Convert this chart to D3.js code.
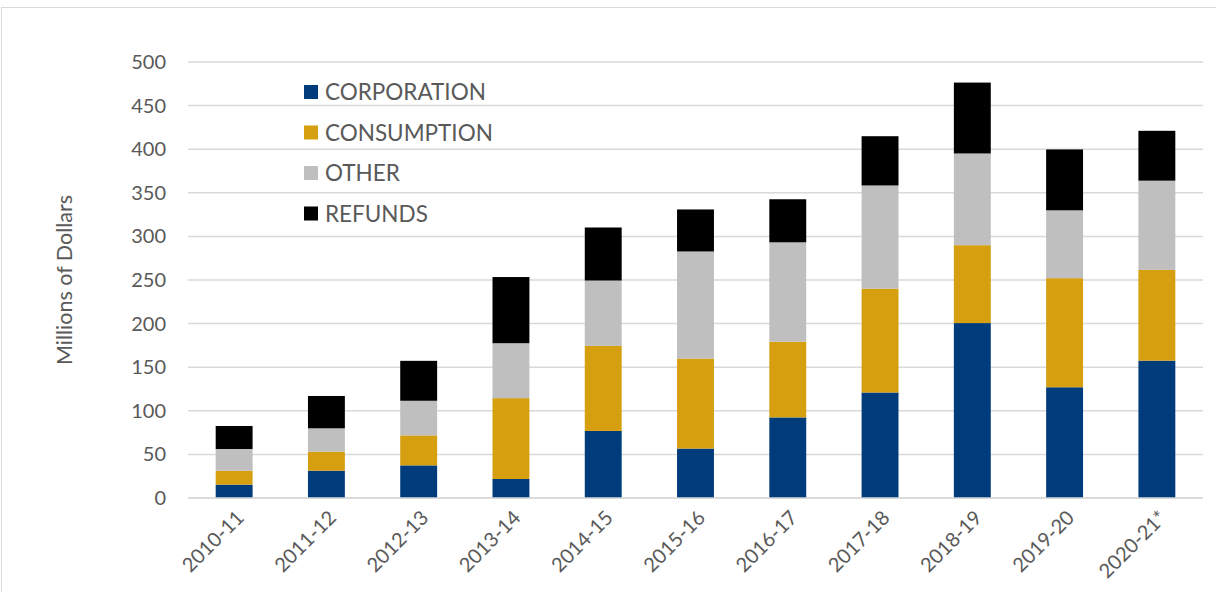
<!DOCTYPE html>
<html>
<head>
<meta charset="utf-8">
<script src="https://cdn.jsdelivr.net/npm/d3@7.9.0/dist/d3.min.js"></script>
<style>
  body { margin: 0; background: #fff; }
  svg text { font-family: Lato, "Open Sans", sans-serif; fill: #595959; }
</style>
</head>
<body>
<svg id="chart" width="1216" height="592"></svg>
<script>
// data (millions of dollars)
const years = ['2010-11', '2011-12', '2012-13', '2013-14', '2014-15', '2015-16',
               '2016-17', '2017-18', '2018-19', '2019-20', '2020-21*'];
const corporation = [15.3, 31.3, 37.4, 21.8, 76.9, 56.7, 92.4, 121, 200.6, 127, 157.5];
const consumption = [16, 21.8, 34.4, 92.7, 97.5, 103.2, 86.8, 119.1, 89.3, 125.1, 104.1];
const other = [24.9, 26.8, 39.7, 63, 75, 122.8, 114, 118.3, 105.2, 77.8, 102.3];
const refunds = [26.4, 37.1, 45.8, 75.9, 60.8, 48.2, 49.4, 56.5, 81.3, 69.8, 57.2];
const seriesNames = ['CORPORATION', 'CONSUMPTION', 'OTHER', 'REFUNDS'];
const seriesColors = ['#003c7b', '#d59f0f', '#bfbfbf', '#000000'];
const yTicks = [0, 50, 100, 150, 200, 250, 300, 350, 400, 450, 500];

const svg = d3.select('#chart');

// chart area border
svg.append('rect')
  .attr('x', 1.5).attr('y', 7.5)
  .attr('width', 1230).attr('height', 600)
  .attr('fill', 'none')
  .attr('stroke', '#d9d9d9');

const table = years.map((y, i) => ({
  year: y,
  CORPORATION: corporation[i],
  CONSUMPTION: consumption[i],
  OTHER: other[i],
  REFUNDS: refunds[i]
}));

const x = d3.scaleBand()
  .domain(years)
  .range([188, 1203])
  .paddingInner(0.6)
  .paddingOuter(0.3);

const y = d3.scaleLinear()
  .domain([0, 500])
  .range([498, 62]);

// gridlines
svg.append('g')
  .selectAll('line')
  .data(yTicks)
  .join('line')
  .attr('x1', 188).attr('x2', 1203)
  .attr('y1', d => y(d)).attr('y2', d => y(d))
  .attr('stroke', '#d9d9d9')
  .attr('stroke-width', 1.5);

// y axis labels
const yAxis = svg.append('g')
  .attr('transform', 'translate(178,0)')
  .call(d3.axisLeft(y).tickValues(yTicks).tickSize(0).tickPadding(12));
yAxis.select('.domain').remove();
yAxis.selectAll('text')
  .attr('font-size', 20)
  .style('font-family', 'Lato, "Open Sans", sans-serif')
  .attr('fill', '#595959');

// stacked bars
const stack = d3.stack().keys(seriesNames);
const layers = stack(table);

svg.append('g')
  .selectAll('g')
  .data(layers)
  .join('g')
  .attr('fill', (d, i) => seriesColors[i])
  .selectAll('rect')
  .data(d => d)
  .join('rect')
  .attr('x', d => x(d.data.year))
  .attr('width', x.bandwidth())
  .attr('y', d => y(d[1]))
  .attr('height', d => y(d[0]) - y(d[1]));

// x axis line
svg.append('line')
  .attr('x1', 188).attr('x2', 1203)
  .attr('y1', y(0)).attr('y2', y(0))
  .attr('stroke', '#d9d9d9')
  .attr('stroke-width', 1.5);

// x labels, rotated
svg.append('g')
  .selectAll('text')
  .data(years)
  .join('text')
  .attr('transform', d => `translate(${x(d) + x.bandwidth() / 2 + 6},${y(0) + 16}) rotate(-45)`)
  .attr('text-anchor', 'end')
  .attr('dy', '0.35em')
  .attr('font-size', 20)
  .text(d => d);

// y axis title
svg.append('text')
  .attr('transform', 'translate(72,280) rotate(-90)')
  .attr('text-anchor', 'middle')
  .attr('font-size', 21.5)
  .text('Millions of Dollars');

// legend
const legend = svg.append('g')
  .selectAll('g')
  .data(seriesNames)
  .join('g')
  .attr('transform', (d, i) => `translate(304,${92 + i * 40.5})`);

legend.append('rect')
  .attr('x', 0).attr('y', -7)
  .attr('width', 14).attr('height', 14)
  .attr('fill', (d, i) => seriesColors[i]);

legend.append('text')
  .attr('x', 21)
  .attr('dy', '0.36em')
  .attr('font-size', 22.5)
  .text(d => d);
</script>
</body>
</html>
